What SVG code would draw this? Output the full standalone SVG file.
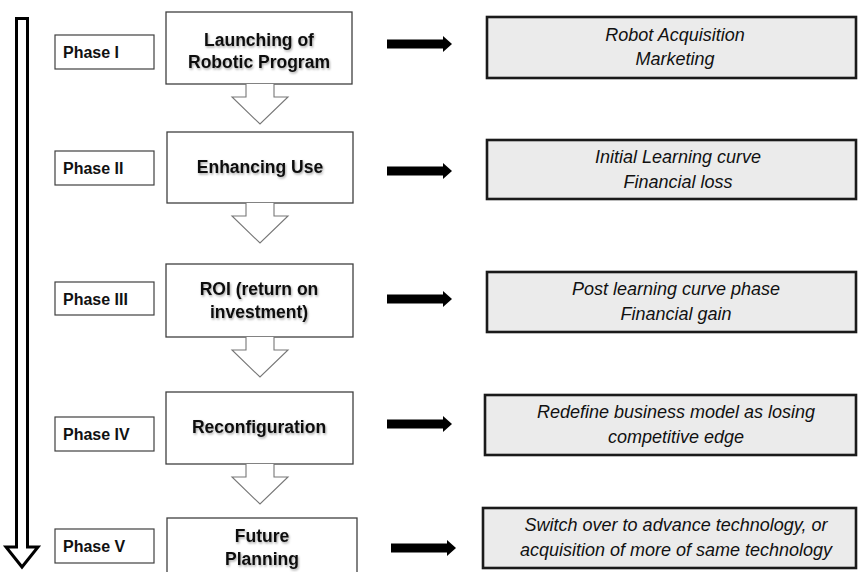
<svg xmlns="http://www.w3.org/2000/svg" width="859" height="572" viewBox="0 0 859 572">
<defs>
<filter id="sh" x="-10%" y="-30%" width="120%" height="160%">
<feDropShadow dx="1" dy="1.5" stdDeviation="1" flood-color="#000" flood-opacity="0.35"/>
</filter>
<path id="harrow" d="M0,0 V13 H-14 L14,40 L42,13 H28 V0"/>
<path id="barrow" d="M0,-4.5 H56 V-8 L65,0 L56,8 V4.5 H0 Z"/>
</defs>
<style>
.main{fill:#fff;stroke:#404040;stroke-width:1.3}
.ph{fill:#fff;stroke:#404040;stroke-width:1.2}
.rb{fill:#ebebeb;stroke:#1a1a1a;stroke-width:2.6}
.ha{fill:#fff;stroke:#777;stroke-width:1.1}
.ba{fill:#000}
.mt{font-family:"Liberation Sans",Arial,sans-serif;font-weight:bold;font-size:17.5px;fill:#111;text-anchor:middle}
.pt{font-family:"Liberation Sans",Arial,sans-serif;font-weight:bold;font-size:16px;fill:#111}
.rt{font-family:"Liberation Sans",Arial,sans-serif;font-style:italic;font-size:18px;fill:#111;text-anchor:middle}
</style>
<g id="timeline">
<path d="M16.5,547 V18.5 H27.5 V547 H38 L22,567 L6,547 Z" fill="#fff" stroke="#000" stroke-width="3" stroke-linejoin="miter"/>
</g>
<g id="phase1"><rect class="ph" x="55" y="35" width="99" height="34"/><text class="pt" x="63" y="58">Phase I</text></g>
<g id="phase2"><rect class="ph" x="55" y="151" width="99" height="34"/><text class="pt" x="63" y="174">Phase II</text></g>
<g id="phase3"><rect class="ph" x="55" y="282" width="99" height="33"/><text class="pt" x="63" y="305">Phase III</text></g>
<g id="phase4"><rect class="ph" x="55" y="417" width="99" height="34"/><text class="pt" x="63" y="440">Phase IV</text></g>
<g id="phase5"><rect class="ph" x="55" y="529" width="99" height="34"/><text class="pt" x="63" y="552">Phase V</text></g>
<g id="step1"><rect class="main" x="166" y="12" width="186" height="72"/><text class="mt" x="259" y="46" filter="url(#sh)">Launching of</text><text class="mt" x="259" y="68" filter="url(#sh)">Robotic Program</text></g>
<g id="step2"><rect class="main" x="167" y="132" width="186" height="71"/><text class="mt" x="260" y="173" filter="url(#sh)">Enhancing Use</text></g>
<g id="step3"><rect class="main" x="166" y="264" width="187" height="73"/><text class="mt" x="259" y="295" filter="url(#sh)">ROI (return on</text><text class="mt" x="259" y="318" filter="url(#sh)">investment)</text></g>
<g id="step4"><rect class="main" x="166" y="392" width="187" height="72"/><text class="mt" x="259" y="433" filter="url(#sh)">Reconfiguration</text></g>
<g id="step5"><rect class="main" x="167" y="518" width="190" height="60"/><text class="mt" x="262" y="542" filter="url(#sh)">Future</text><text class="mt" x="262" y="565" filter="url(#sh)">Planning</text></g>
<g id="out1"><rect class="rb" x="487" y="17" width="369" height="61"/><text class="rt" x="675" y="41">Robot Acquisition</text><text class="rt" x="675" y="65">Marketing</text></g>
<g id="out2"><rect class="rb" x="487" y="140" width="369" height="59"/><text class="rt" x="678" y="163">Initial Learning curve</text><text class="rt" x="678" y="188">Financial loss</text></g>
<g id="out3"><rect class="rb" x="487" y="272" width="369" height="60"/><text class="rt" x="676" y="295">Post learning curve phase</text><text class="rt" x="676" y="320">Financial gain</text></g>
<g id="out4"><rect class="rb" x="485" y="395" width="371" height="60"/><text class="rt" x="676" y="418">Redefine business model as losing</text><text class="rt" x="676" y="443">competitive edge</text></g>
<g id="out5"><rect class="rb" x="483" y="508" width="373" height="60"/><text class="rt" x="676" y="531">Switch over to advance technology, or</text><text class="rt" x="676" y="556">acquisition of more of same technology</text></g>
<g id="connectors">
<use href="#harrow" class="ha" x="246" y="84"/>
<use href="#harrow" class="ha" x="246" y="203"/>
<use href="#harrow" class="ha" x="246" y="337"/>
<use href="#harrow" class="ha" x="246" y="464"/>
<use href="#barrow" class="ba" x="387" y="44"/>
<use href="#barrow" class="ba" x="387" y="171"/>
<use href="#barrow" class="ba" x="387" y="299"/>
<use href="#barrow" class="ba" x="387" y="424"/>
<use href="#barrow" class="ba" x="391" y="548"/>
</g>
</svg>
